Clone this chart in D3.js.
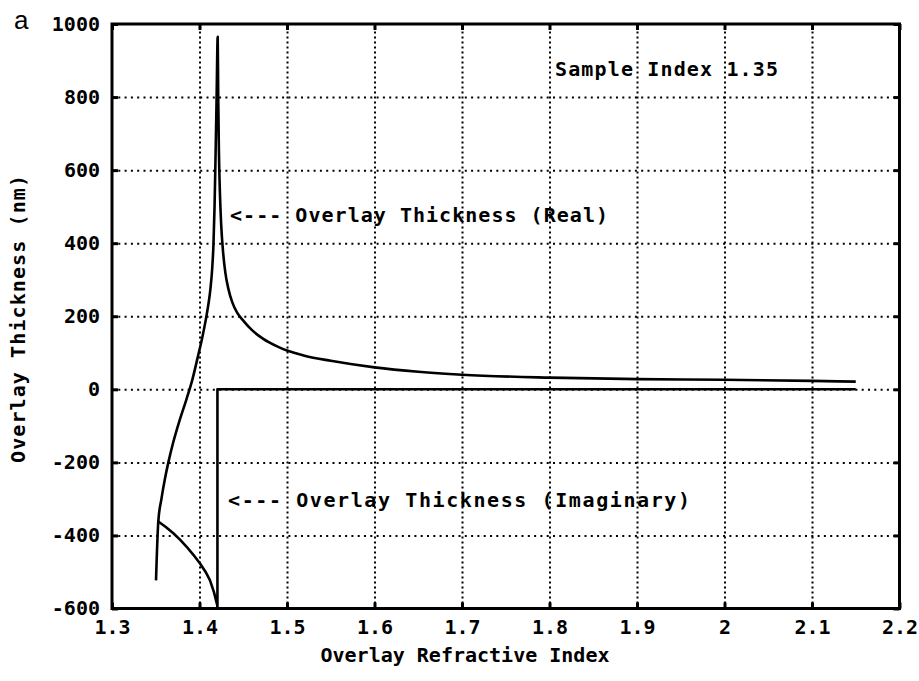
<!DOCTYPE html>
<html>
<head>
<meta charset="utf-8">
<script src="https://cdn.jsdelivr.net/npm/d3@7"></script>
<style>
  body { margin: 0; background: #fff; }
  svg { display: block; }
  .lbl { font-family: "DejaVu Sans Mono", monospace; font-weight: bold; font-size: 20px; fill: #000; }
  .grid line { stroke: #000; stroke-width: 2; }
</style>
</head>
<body>
<div id="vis"></div>
<script>
// frame
const FRAME_WIDTH = 919;
const FRAME_HEIGHT = 681;
const PLOT = {left: 112, right: 899.5, top: 24, bottom: 608.5};

// ticks
const X_TICKS = [1.3, 1.4, 1.5, 1.6, 1.7, 1.8, 1.9, 2.0, 2.1, 2.2];
const Y_TICKS = [-600, -400, -200, 0, 200, 400, 600, 800, 1000];

// overlay thickness (real part)
const REAL_N = [1.3503, 1.3529, 1.3565, 1.3605, 1.3644, 1.3700, 1.3770, 1.3850, 1.3920, 1.3980,
                1.4030, 1.4070, 1.4100, 1.4125, 1.4145, 1.4160, 1.4172, 1.4182, 1.4195, 1.4208,
                1.4214, 1.4222, 1.4233, 1.4248, 1.4268, 1.4295, 1.4330, 1.4375, 1.4430, 1.4500,
                1.4600, 1.4729, 1.4900, 1.5000, 1.5200, 1.5500, 1.6000, 1.6500, 1.7000, 1.8000,
                1.9000, 2.0000, 2.1000, 2.1500];
const REAL_T = [-523, -362, -300, -245, -200, -145, -87, -28, 28, 88,
                140, 188, 230, 275, 330, 400, 500, 620, 790, 965,
                800, 650, 540, 450, 380, 320, 275, 238, 210, 188,
                162, 138, 116, 106, 92, 78, 60, 48, 40, 32,
                28, 26, 23, 21];

// overlay thickness (imaginary part)
const IMAG_N = [1.3529, 1.3615, 1.3701, 1.3780, 1.3853, 1.3930, 1.4006, 1.4070, 1.4120, 1.4165, 1.4203, 1.4205, 1.4205, 2.1500];
const IMAG_T = [-362, -377, -394, -412, -431, -453, -477, -500, -523, -555, -591, -600, 0, 0];

const SVG = d3.select("#vis")
              .append("svg")
                .attr("width", FRAME_WIDTH)
                .attr("height", FRAME_HEIGHT);

const X_SCALE = d3.scaleLinear()
                  .domain([1.3, 2.2])
                  .range([PLOT.left, PLOT.right]);

const Y_SCALE = d3.scaleLinear()
                  .domain([-600, 1000])
                  .range([PLOT.bottom, PLOT.top]);

const H = PLOT.bottom - PLOT.top;
const W = PLOT.right - PLOT.left;

// dotted grid
SVG.append("g")
   .attr("class", "grid")
   .attr("transform", "translate(0," + PLOT.bottom + ")")
   .call(d3.axisBottom(X_SCALE).tickValues(X_TICKS.slice(1, -1)).tickSize(-H).tickFormat(""))
   .call(g => g.select(".domain").remove())
   .selectAll("line").attr("stroke-dasharray", "2,3");

SVG.append("g")
   .attr("class", "grid")
   .attr("transform", "translate(" + PLOT.left + ",0)")
   .call(d3.axisLeft(Y_SCALE).tickValues(Y_TICKS.slice(1, -1)).tickSize(-W).tickFormat(""))
   .call(g => g.select(".domain").remove())
   .selectAll("line").attr("stroke-dasharray", "2,4.3");

// axes with inward ticks
const fmtX = d => String(+d.toFixed(1));
const fmtY = d => String(d);

function styleAxis(g) {
  g.select(".domain").remove();
  g.selectAll("line").attr("stroke", "#000").attr("stroke-width", 3);
  g.selectAll("text").attr("class", "lbl").attr("fill", "#000");
}

SVG.append("g")
   .attr("transform", "translate(0," + PLOT.bottom + ")")
   .call(d3.axisBottom(X_SCALE).tickValues(X_TICKS).tickSize(-6).tickPadding(11).tickFormat(fmtX))
   .call(styleAxis);

SVG.append("g")
   .attr("transform", "translate(0," + PLOT.top + ")")
   .call(d3.axisTop(X_SCALE).tickValues(X_TICKS).tickSize(-6).tickFormat(""))
   .call(styleAxis);

SVG.append("g")
   .attr("transform", "translate(" + PLOT.left + ",0)")
   .call(d3.axisLeft(Y_SCALE).tickValues(Y_TICKS).tickSize(-6).tickPadding(12).tickFormat(fmtY))
   .call(styleAxis);

SVG.append("g")
   .attr("transform", "translate(" + PLOT.right + ",0)")
   .call(d3.axisRight(Y_SCALE).tickValues(Y_TICKS).tickSize(-6).tickFormat(""))
   .call(styleAxis);

// plot border
SVG.append("rect")
   .attr("x", PLOT.left)
   .attr("y", PLOT.top)
   .attr("width", W)
   .attr("height", H)
   .attr("fill", "none")
   .attr("stroke", "#000")
   .attr("stroke-width", 3);

// curves
const realLine = d3.line()
                   .x(i => X_SCALE(REAL_N[i]))
                   .y(i => Y_SCALE(REAL_T[i]))
                   .curve(d3.curveMonotoneX);

const imagLine = d3.line()
                   .x(i => X_SCALE(IMAG_N[i]))
                   .y(i => Y_SCALE(IMAG_T[i]));

SVG.append("path")
   .attr("d", realLine(d3.range(REAL_N.length)))
   .attr("fill", "none")
   .attr("stroke", "#000")
   .attr("stroke-width", 2.6)
   .attr("stroke-linejoin", "round");

SVG.append("path")
   .attr("d", imagLine(d3.range(IMAG_N.length)))
   .attr("fill", "none")
   .attr("stroke", "#000")
   .attr("stroke-width", 2.6)
   .attr("stroke-linejoin", "round");

// annotations
SVG.append("text").attr("class", "lbl")
   .attr("x", 555).attr("y", 76)
   .attr("textLength", 223).attr("lengthAdjust", "spacing")
   .text("Sample Index 1.35");

SVG.append("text").attr("class", "lbl")
   .attr("x", 230).attr("y", 222)
   .attr("textLength", 378).attr("lengthAdjust", "spacing")
   .text("<--- Overlay Thickness (Real)");

SVG.append("text").attr("class", "lbl")
   .attr("x", 228).attr("y", 507)
   .attr("textLength", 462).attr("lengthAdjust", "spacing")
   .text("<--- Overlay Thickness (Imaginary)");

// axis titles
SVG.append("text").attr("class", "lbl")
   .attr("x", 465).attr("y", 662)
   .attr("text-anchor", "middle")
   .text("Overlay Refractive Index");

SVG.append("text").attr("class", "lbl")
   .attr("transform", "translate(25,319) rotate(-90)")
   .attr("text-anchor", "middle")
   .attr("textLength", 288).attr("lengthAdjust", "spacing")
   .text("Overlay Thickness (nm)");

// panel letter
SVG.append("text")
   .attr("x", 14).attr("y", 29)
   .attr("font-family", "Liberation Sans, Arial, sans-serif")
   .attr("font-size", 26)
   .attr("fill", "#000")
   .text("a");
</script>
</body>
</html>
